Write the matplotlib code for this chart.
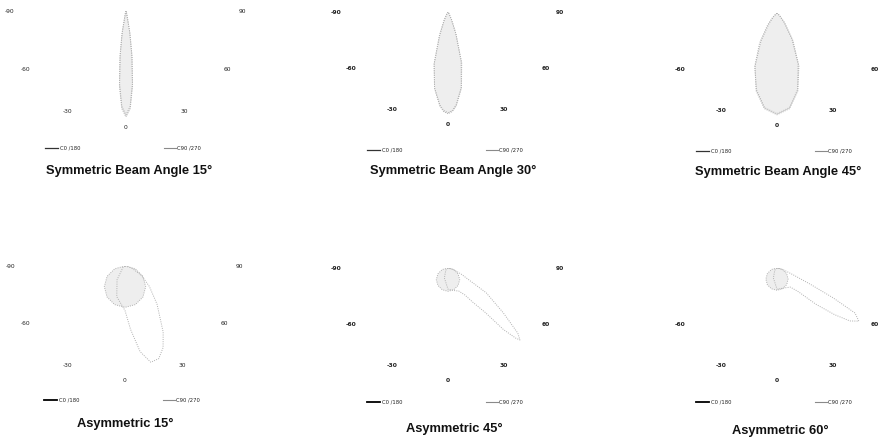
import numpy as np
import matplotlib
matplotlib.use("Agg")
import matplotlib.pyplot as plt
from matplotlib.lines import Line2D

W, H, DPI = 882, 441, 100

# ---------------- data ----------------
label_angles = [-90, -60, -30, 0, 30, 60, 90]
label_texts = ["-90", "-60", "-30", "0", "30", "60", "90"]
legend_labels = ["C0 /180", "C90 /270"]
titles = ["Symmetric Beam Angle 15°", "Symmetric Beam Angle 30°",
          "Symmetric Beam Angle 45°", "Asymmetric 15°",
          "Asymmetric 45°", "Asymmetric 60°"]

# Symmetric 15°
sym15_angles = [-20, -15, -10, -7.5, -5, -2.5, 0, 2.5, 5, 7.5, 10, 15, 20]
sym15_c0 = [0.0, 0.03, 0.22, 0.44, 0.71, 0.92, 1.0, 0.92, 0.71, 0.44, 0.22, 0.03, 0.0]
sym15_c90 = [0.0, 0.02, 0.20, 0.42, 0.69, 0.90, 0.98, 0.90, 0.69, 0.42, 0.20, 0.02, 0.0]

# Symmetric 30°
sym30_angles = [-40, -30, -25, -20, -15, -10, -5, -2.5, 0, 2.5, 5, 10, 15, 20, 25, 30, 40]
sym30_c0 = [0.0, 0.02, 0.08, 0.22, 0.50, 0.73, 0.89, 0.94, 0.96, 0.94, 0.89, 0.73, 0.50, 0.22, 0.08, 0.02, 0.0]
sym30_c90 = [0.0, 0.03, 0.09, 0.24, 0.51, 0.73, 0.88, 0.93, 0.95, 0.93, 0.88, 0.72, 0.48, 0.21, 0.07, 0.02, 0.0]

# Symmetric 45°
sym45_angles = [-60, -45, -37.5, -30, -22.5, -15, -7.5, 0, 7.5, 15, 22.5, 30, 37.5, 45, 60]
sym45_c0 = [0.0, 0.04, 0.12, 0.30, 0.54, 0.76, 0.91, 0.96, 0.91, 0.76, 0.54, 0.30, 0.12, 0.04, 0.0]
sym45_c90 = [0.0, 0.06, 0.15, 0.33, 0.55, 0.75, 0.90, 0.95, 0.90, 0.75, 0.52, 0.28, 0.11, 0.03, 0.0]

# Asymmetric 15°
asy15_angles = [-90, -60, -30, -15, 0, 5, 10, 15, 20, 25, 30, 40, 50, 60, 70, 80, 90]
asy15_c0 = [0.0, 0.02, 0.15, 0.30, 0.42, 0.60, 0.82, 0.94, 0.93, 0.85, 0.72, 0.47, 0.30, 0.18, 0.08, 0.03, 0.0]
circ_angles = [-90, -75, -60, -45, -30, -15, 0, 15, 30, 45, 60, 75, 90]
asy15_c90 = [0.0, 0.10, 0.195, 0.276, 0.338, 0.377, 0.39, 0.377, 0.338, 0.276, 0.195, 0.10, 0.0]

# Asymmetric 45°
asy45_angles = [-90, -45, -20, 0, 15, 25, 32, 36, 40, 42, 44, 45, 47, 51, 57, 60, 65, 75, 90]
asy45_c0 = [0.0, 0.03, 0.10, 0.20, 0.22, 0.24, 0.30, 0.40, 0.55, 0.78, 0.92, 0.96, 0.90, 0.67, 0.43, 0.24, 0.14, 0.05, 0.0]
asy45_c90 = [0.0, 0.057, 0.11, 0.156, 0.19, 0.212, 0.22, 0.212, 0.19, 0.156, 0.11, 0.057, 0.0]

# Asymmetric 60°
asy60_angles = [-90, -45, -20, 0, 20, 35, 42, 47, 51, 54, 57, 60, 62, 64, 67, 72, 80, 90]
asy60_c0 = [0.0, 0.03, 0.10, 0.20, 0.20, 0.22, 0.30, 0.50, 0.70, 0.85, 0.92, 0.85, 0.60, 0.35, 0.17, 0.08, 0.03, 0.0]
asy60_c90 = [0.0, 0.054, 0.105, 0.148, 0.182, 0.203, 0.21, 0.203, 0.182, 0.148, 0.105, 0.054, 0.0]

panels = [
    dict(c0=(sym15_angles, sym15_c0), c90=(sym15_angles, sym15_c90), fill="c0"),
    dict(c0=(sym30_angles, sym30_c0), c90=(sym30_angles, sym30_c90), fill="c0"),
    dict(c0=(sym45_angles, sym45_c0), c90=(sym45_angles, sym45_c90), fill="c0"),
    dict(c0=(asy15_angles, asy15_c0), c90=(circ_angles, asy15_c90), fill="c90"),
    dict(c0=(asy45_angles, asy45_c0), c90=(circ_angles, asy45_c90), fill="c90"),
    dict(c0=(asy60_angles, asy60_c0), c90=(circ_angles, asy60_c90), fill="c90"),
]

# ---------------- layout (pixels) ----------------
centers = [(126, 11), (448, 12), (777, 13), (125, 266), (448, 268), (777, 268)]
R = 106
label_r = [1.10, 1.06, 1.06, 1.08, 1.06, 1.06]
bold_labels = [False, True, True, False, True, True]
show90 = [True, True, False, True, True, False]
legend_y = [148, 150, 151, 400, 402, 402]
title_pos = [(129, 171), (453, 171), (778, 172), (125, 424), (454, 429), (780, 431)]

fig = plt.figure(figsize=(W / DPI, H / DPI), dpi=DPI)
fig.patch.set_facecolor("white")


def fx(x):
    return x / W


def fy(y):
    return 1 - y / H


for i, p in enumerate(panels):
    cx, cy = centers[i]
    # half-disc wedge is padded to a square box by matplotlib, centred vertically
    top = cy - R / 2
    rect = [fx(cx - R), fy(top + 2 * R), 2 * R / W, 2 * R / H]
    ax = fig.add_axes(rect, projection="polar")
    ax.set_theta_zero_location("S")
    ax.set_thetamin(-90)
    ax.set_thetamax(90)
    ax.set_ylim(0, 1.0)
    ax.set_axis_off()

    for key in ("c0", "c90"):
        ang, val = p[key]
        th = np.deg2rad(ang)
        if p["fill"] == key:
            ax.fill(th, val, color="#eeeeee", lw=0, zorder=1)
        ax.plot(th, val, color="#b0b0b0", lw=0.7,
                linestyle=(0, (1, 1.3)), zorder=2)

    fw = "bold" if bold_labels[i] else "normal"
    for a, t in zip(label_angles, label_texts):
        if abs(a) == 90 and not show90[i]:
            continue
        ax.text(np.deg2rad(a), label_r[i], t, ha="center", va="center",
                fontsize=4.3, fontweight=fw, color="#222222", clip_on=False)

    # legend
    ly = legend_y[i]
    dark = "#333333" if i < 3 else "#000000"
    lw0 = 0.9 if i < 3 else 1.3
    fig.add_artist(Line2D([fx(cx - 81), fx(cx - 68)], [fy(ly), fy(ly)],
                          color=dark, lw=lw0))
    fig.text(fx(cx - 66), fy(ly), legend_labels[0], fontsize=3.8,
             va="center", ha="left", color="#222222")
    fig.add_artist(Line2D([fx(cx + 38), fx(cx + 50)], [fy(ly), fy(ly)],
                          color="#8a8a8a", lw=0.8))
    fig.text(fx(cx + 51), fy(ly), legend_labels[1], fontsize=3.8,
             va="center", ha="left", color="#222222")

    tx, ty = title_pos[i]
    fig.text(fx(tx), fy(ty), titles[i], fontsize=9.3, fontweight="bold",
             family=["Liberation Sans", "DejaVu Sans"], ha="center",
             va="center", color="#111111")

fig.savefig("out.png", dpi=DPI, facecolor="white")
